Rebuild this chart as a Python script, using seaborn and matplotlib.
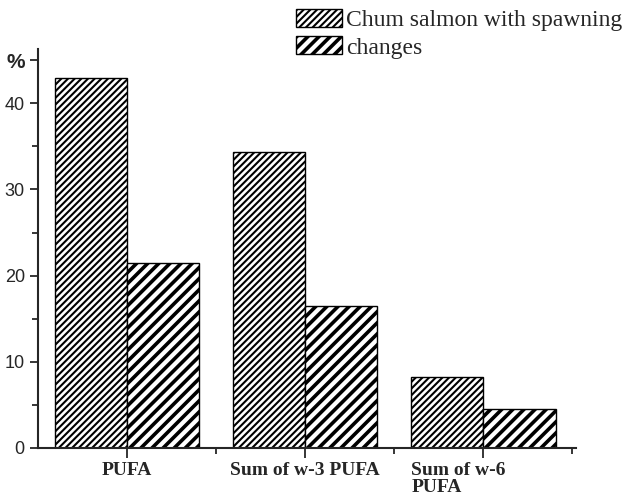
import matplotlib
matplotlib.use("Agg")
import matplotlib.pyplot as plt
import pandas as pd
import seaborn as sns
from matplotlib.patches import Patch
from matplotlib.ticker import FixedLocator

# %% Data
categories = ["PUFA", "Sum of w-3 PUFA", "Sum of w-6\nPUFA"]
series_names = ["Chum salmon with spawning", "changes"]
series_a = [43.0, 34.3, 8.2]
series_b = [21.5, 16.5, 4.5]
y_ticks = [0, 10, 20, 30, 40, 45]
y_tick_labels = ["0", "10", "20", "30", "40", "%"]

df = pd.DataFrame({
    "category": categories * 2,
    "series": [series_names[0]] * 3 + [series_names[1]] * 3,
    "value": series_a + series_b,
})

# %% Plot
sns.set_style("ticks")
plt.rcParams["font.family"] = ["Liberation Sans", "DejaVu Sans"]
plt.rcParams["hatch.color"] = "black"
SERIF = ["Liberation Serif", "DejaVu Serif"]

fig = plt.figure(figsize=(6.33, 5.01), dpi=100)
ax = fig.add_axes([0.06, 0.106, 0.85, 0.796])

sns.barplot(data=df, x="category", y="value", hue="series", width=0.81,
            palette=["white", "white"], edgecolor="black", linewidth=1.0,
            legend=False, ax=ax)

hatches = ["/////", "///"]
hatch_lw = [1.5, 2.6]
for cont, h, lw in zip(ax.containers, hatches, hatch_lw):
    for bar in cont:
        bar.set_hatch(h)
        if hasattr(bar, "set_hatch_linewidth"):
            bar.set_hatch_linewidth(lw)

ax.set_xlim(-0.5, 2.52)
ax.set_ylim(0, 46.3)
sns.despine(ax=ax)
for side in ["left", "bottom"]:
    ax.spines[side].set_linewidth(1.5)

ax.set_yticks(y_ticks)
ax.set_yticklabels(y_tick_labels, fontsize=13)
ax.yaxis.set_minor_locator(FixedLocator([5, 15, 25, 35]))
for lab in ax.get_yticklabels():
    if lab.get_text() == "%":
        lab.set_fontweight("bold")
        lab.set_fontsize(15)
ax.set_xticks(range(len(categories)))
ax.xaxis.set_minor_locator(FixedLocator([0.5, 1.5, 2.5]))
ax.tick_params(axis="both", which="major", length=6, width=1.3, direction="out")
ax.tick_params(axis="both", which="minor", length=4, width=1.3, direction="out")
ax.tick_params(axis="x", which="major", length=7, labelbottom=False)

# category labels: drawn as annotations so the wrapped one can sit left-aligned
ax.set_xlabel("")
ax.set_ylabel("")
for i, cat in enumerate(categories):
    wrapped = "\n" in cat
    ax.annotate(cat, xy=(i, 0), xycoords=("data", "axes fraction"),
                xytext=(-52 if wrapped else 0, -10), textcoords="offset points",
                ha="left" if wrapped else "center", va="top", multialignment="left",
                fontfamily=SERIF, fontweight="bold", fontsize=14, linespacing=1.05,
                annotation_clip=False)

handles = [Patch(facecolor="white", edgecolor="black", hatch=h) for h in hatches]
leg = fig.legend(handles, series_names, loc="upper right", bbox_to_anchor=(1.005, 1.01),
                 frameon=False, handlelength=1.95, handleheight=0.78, handletextpad=0.15,
                 labelspacing=0.22, borderaxespad=0.2, prop={"family": SERIF, "size": 17})
for h, lw in zip(leg.legend_handles, hatch_lw):
    if hasattr(h, "set_hatch_linewidth"):
        h.set_hatch_linewidth(lw)

fig.savefig("out.png", dpi=100)
